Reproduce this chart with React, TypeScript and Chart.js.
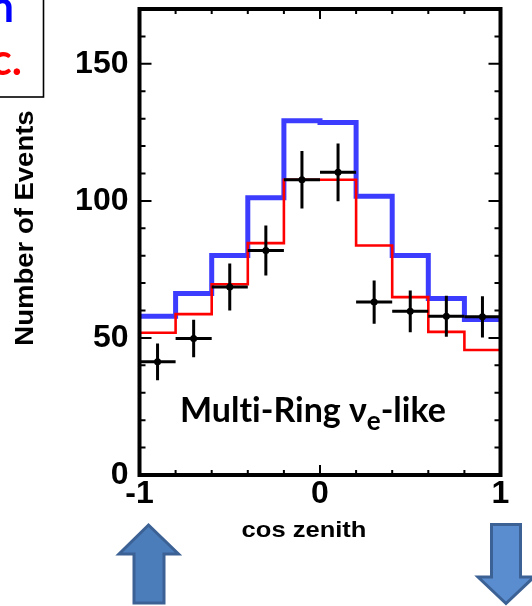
import React, { useEffect, useRef } from "react";
import { Chart, registerables } from "chart.js";

Chart.register(...registerables);

// ---- data ----
const binEdges = [-1, -0.8, -0.6, -0.4, -0.2, 0, 0.2, 0.4, 0.6, 0.8, 1];
const binCenters = [-0.9, -0.7, -0.5, -0.3, -0.1, 0.1, 0.3, 0.5, 0.7, 0.9];
const blueMC = [57.9, 66.2, 80.1, 101.1, 129.2, 128.6, 101.7, 80.1, 64.4, 56.7];
const redMC = [51.9, 58.7, 69.6, 84.6, 107.7, 107.7, 83.7, 64.9, 52.2, 45.6];
const dataCounts = [41.3, 49.8, 68.6, 81.9, 107.7, 110.4, 63.1, 59.7, 57.9, 57.7];
const dataErrors = [6.7, 6.8, 8.6, 9.1, 10.5, 10.5, 7.9, 7.6, 7.5, 7.5];
const xTickLabels = [-1, 0, 1];
const yTickLabels = [0, 50, 100, 150];
const xTitle = "cos zenith";
const yTitle = "Number of Events";
const sampleLabel = ["Mult", "i-Ring ", "\u03bd", "e", "-like"];
const boxTexts = ["n", "c."];

const ARIAL = '"Liberation Sans", Arial, Helvetica, sans-serif';
const CALIBRI = 'Lato, "Open Sans", "Noto Sans", sans-serif';

function histPoints(values: number[]) {
  const pts = values.map((v, i) => ({ x: binEdges[i], y: v }));
  pts.push({ x: binEdges[binEdges.length - 1], y: values[values.length - 1] });
  return pts;
}

const decorPlugin = {
  id: "decor",
  afterDatasetsDraw(chart: any) {
    const ctx = chart.ctx as CanvasRenderingContext2D;
    const xs = chart.scales.x;
    const ys = chart.scales.y;

    // error bars
    ctx.save();
    ctx.strokeStyle = "#000";
    ctx.lineWidth = 3;
    ctx.lineCap = "butt";
    dataCounts.forEach((v, i) => {
      const cx = xs.getPixelForValue(binCenters[i]);
      const cy = ys.getPixelForValue(v);
      const x0 = xs.getPixelForValue(binCenters[i] - 0.1);
      const x1 = xs.getPixelForValue(binCenters[i] + 0.1);
      const y0 = ys.getPixelForValue(v - dataErrors[i]);
      const y1 = ys.getPixelForValue(v + dataErrors[i]);
      ctx.beginPath();
      ctx.moveTo(x0, cy);
      ctx.lineTo(x1, cy);
      ctx.moveTo(cx, y0);
      ctx.lineTo(cx, y1);
      ctx.stroke();
    });
    ctx.restore();
  },
  afterDraw(chart: any) {
    const ctx = chart.ctx as CanvasRenderingContext2D;
    const xs = chart.scales.x;
    const ys = chart.scales.y;
    const { left, right, top, bottom } = chart.chartArea;

    ctx.save();
    // inward ticks
    ctx.strokeStyle = "#000";
    ctx.lineWidth = 2;
    ctx.beginPath();
    for (let v = 10; v < 170; v += 10) {
      const y = ys.getPixelForValue(v);
      const len = v % 50 === 0 ? 12 : 6;
      ctx.moveTo(left, y);
      ctx.lineTo(left + len, y);
      ctx.moveTo(right, y);
      ctx.lineTo(right - len, y);
    }
    for (let k = -4; k <= 4; k++) {
      const v = k * 0.2;
      const x = xs.getPixelForValue(v);
      const len = k === 0 ? 10 : 5;
      ctx.moveTo(x, bottom);
      ctx.lineTo(x, bottom - len);
      ctx.moveTo(x, top);
      ctx.lineTo(x, top + len);
    }
    ctx.stroke();

    // frame
    ctx.lineWidth = 4;
    ctx.lineJoin = "miter";
    ctx.strokeRect(left, top, right - left, bottom - top);

    // axis titles
    ctx.fillStyle = "#000";
    ctx.font = `bold 22px ${ARIAL}`;
    ctx.textAlign = "center";
    ctx.textBaseline = "alphabetic";
    ctx.save();
    ctx.translate(304, 537);
    ctx.scale(1.16, 1);
    ctx.fillText(xTitle, 0, 0);
    ctx.restore();

    ctx.save();
    ctx.font = `bold 25px ${ARIAL}`;
    ctx.translate(33, 228);
    ctx.rotate(-Math.PI / 2);
    ctx.scale(1.1, 1);
    ctx.fillText(yTitle, 0, 0);
    ctx.restore();

    // sample label
    ctx.textAlign = "left";
    const main = `bold 34px ${CALIBRI}`;
    const sub = `bold 26px ${CALIBRI}`;
    let x = 180;
    const base = 421.5;
    [0, 1, 2, 3, 4].forEach((i) => {
      const isSub = i === 3;
      ctx.font = isSub ? sub : main;
      ctx.fillText(sampleLabel[i], x, isSub ? base + 8 : base);
      x += ctx.measureText(sampleLabel[i]).width;
    });

    // top-left legend box (clipped)
    ctx.lineWidth = 1.6;
    ctx.strokeStyle = "#000";
    ctx.strokeRect(-10, -10, 53.5, 107);
    ctx.font = `bold 43px ${CALIBRI}`;
    ctx.textAlign = "right";
    ctx.fillStyle = "#0000ff";
    ctx.fillText(boxTexts[0], 14, 22);
    ctx.fillStyle = "#ff0000";
    ctx.fillText(boxTexts[1], 22, 75);

    // arrows
    ctx.lineWidth = 3;
    ctx.lineJoin = "miter";
    ctx.strokeStyle = "#3c6194";
    ctx.fillStyle = "#4a7dba";
    ctx.beginPath();
    ctx.moveTo(148.5, 525);
    ctx.lineTo(178.5, 554);
    ctx.lineTo(164, 554);
    ctx.lineTo(164, 603);
    ctx.lineTo(134, 603);
    ctx.lineTo(134, 554);
    ctx.lineTo(119, 554);
    ctx.closePath();
    ctx.fill();
    ctx.stroke();

    ctx.fillStyle = "#5a8dcf";
    ctx.beginPath();
    ctx.moveTo(491.5, 524.5);
    ctx.lineTo(520.5, 524.5);
    ctx.lineTo(520.5, 577);
    ctx.lineTo(534, 577);
    ctx.lineTo(506, 603.5);
    ctx.lineTo(478, 577);
    ctx.lineTo(491.5, 577);
    ctx.closePath();
    ctx.fill();
    ctx.stroke();

    ctx.restore();
  },
};

export default function App() {
  const ref = useRef<HTMLCanvasElement | null>(null);

  useEffect(() => {
    if (!ref.current) return;
    const tickFont = { family: ARIAL, size: 32, weight: "bold" as const };
    const chart = new Chart(ref.current, {
      type: "line",
      data: {
        datasets: [
          {
            type: "scatter",
            label: "Data",
            data: dataCounts.map((v, i) => ({ x: binCenters[i], y: v })),
            backgroundColor: "#000",
            borderColor: "#000",
            pointRadius: 3.5,
            pointBorderWidth: 0,
            showLine: false,
          } as any,
          {
            label: "Red MC",
            data: histPoints(redMC),
            borderColor: "#ff0000",
            borderWidth: 2.6,
            stepped: "before",
            pointRadius: 0,
            fill: false,
          },
          {
            label: "Blue MC",
            data: histPoints(blueMC),
            borderColor: "#3c3cff",
            borderWidth: 5,
            stepped: "before",
            pointRadius: 0,
            fill: false,
          },
        ],
      },
      options: {
        animation: false,
        responsive: false,
        maintainAspectRatio: false,
        events: [],
        layout: { padding: { left: 0, right: 31.5, top: 9, bottom: 0 } },
        plugins: { legend: { display: false }, tooltip: { enabled: false } },
        scales: {
          x: {
            type: "linear",
            min: -1,
            max: 1,
            grid: { display: false, drawTicks: false },
            border: { display: false },
            ticks: {
              stepSize: 1,
              padding: 0,
              color: "#000",
              font: tickFont,
              maxRotation: 0,
              autoSkip: false,
              callback: (v: any) => (xTickLabels.includes(Number(v)) ? String(v) : null),
            },
            afterFit: (s: any) => {
              s.height = 131;
              s.paddingLeft = 0;
              s.paddingRight = 0;
            },
          },
          y: {
            type: "linear",
            min: 0,
            max: 170,
            grid: { display: false, drawTicks: false },
            border: { display: false },
            ticks: {
              stepSize: 50,
              padding: 11,
              color: "#000",
              font: tickFont,
              autoSkip: false,
              callback: (v: any) => (yTickLabels.includes(Number(v)) ? String(v) : null),
            },
            afterFit: (s: any) => {
              s.width = 139.5;
              s.paddingTop = 0;
              s.paddingBottom = 0;
            },
          },
        },
      },
      plugins: [decorPlugin],
    });
    return () => chart.destroy();
  }, []);

  return (
    <div style={{ position: "absolute", left: 0, top: 0, width: 532, height: 606, background: "#fff" }}>
      <canvas ref={ref} width={532} height={606} style={{ display: "block" }} />
    </div>
  );
}
